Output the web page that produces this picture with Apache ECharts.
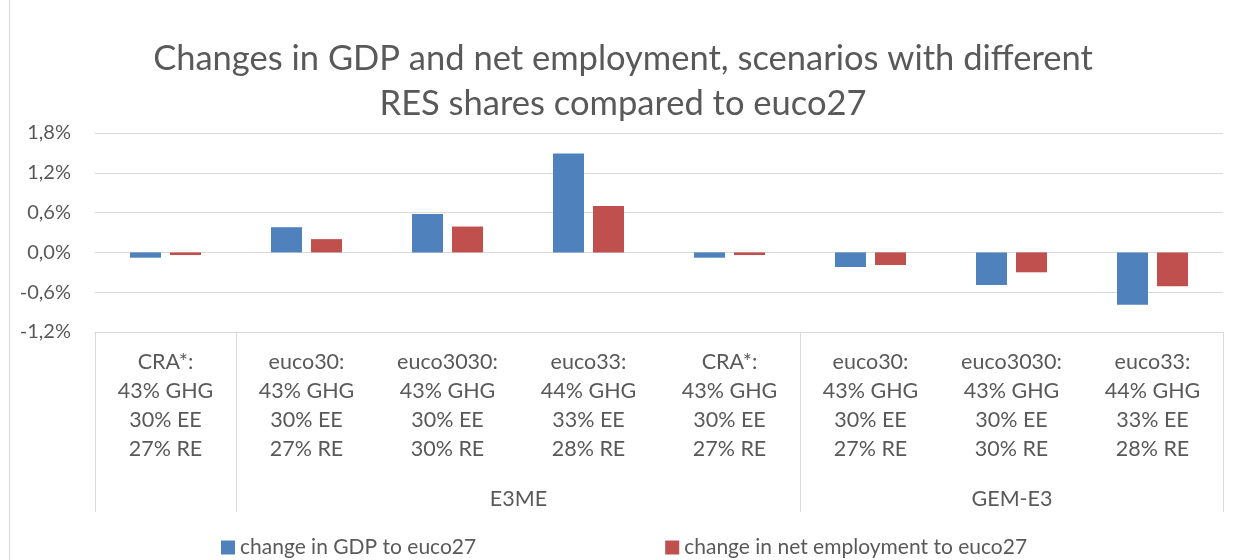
<!DOCTYPE html>
<html>
<head>
<meta charset="utf-8">
<title>Changes in GDP and net employment</title>
<script src="https://cdn.jsdelivr.net/npm/echarts@6/dist/echarts.min.js"></script>
<style>
  html, body { margin: 0; padding: 0; background: #fff; }
  #chart { width: 1246px; height: 560px; }
</style>
</head>
<body>
<div id="chart"></div>
<script>
// categories (inner level of the axis)
var categories = [
    'CRA*:\n43% GHG\n30% EE\n27% RE',
    'euco30:\n43% GHG\n30% EE\n27% RE',
    'euco3030:\n43% GHG\n30% EE\n30% RE',
    'euco33:\n44% GHG\n33% EE\n28% RE',
    'CRA*:\n43% GHG\n30% EE\n27% RE',
    'euco30:\n43% GHG\n30% EE\n27% RE',
    'euco3030:\n43% GHG\n30% EE\n30% RE',
    'euco33:\n44% GHG\n33% EE\n28% RE'
];
// outer level: group names and how many categories each covers
var groupNames = ['', 'E3ME', 'GEM-E3'];
var groupSpans = [1, 4, 3];
// values in %
var gdpChange = [-0.08, 0.38, 0.58, 1.49, -0.08, -0.22, -0.49, -0.79];
var empChange = [-0.04, 0.20, 0.39, 0.70, -0.04, -0.19, -0.30, -0.51];
var seriesNames = ['change in GDP to euco27', 'change in net employment to euco27'];

var FONT = 'Lato';
var GREY = '#595959';
var LINE = '#D9D9D9';

var chart = echarts.init(document.getElementById('chart'));
var option = {
    backgroundColor: '#fff',
    textStyle: { fontFamily: FONT },
    title: {
        text: 'Changes in GDP and net employment, scenarios with different\nRES shares compared to euco27',
        left: 'center',
        top: 31,
        textStyle: { fontFamily: FONT, fontSize: 34.5, fontWeight: 'normal', color: GREY, lineHeight: 45 }
    },
    legend: {
        top: 532,
        left: 216,
        itemGap: 189,
        itemWidth: 14,
        itemHeight: 14,
        icon: 'rect',
        data: seriesNames,
        textStyle: { fontFamily: FONT, fontSize: 21, color: GREY }
    },
    grid: { left: 95, right: 23, top: 133, bottom: 228 },
    xAxis: {
        type: 'category',
        data: categories,
        axisLine: { onZero: false, lineStyle: { color: LINE } },
        axisTick: { show: false },
        axisLabel: {
            interval: 0,
            margin: 16,
            fontFamily: FONT,
            fontSize: 21.5,
            lineHeight: 29,
            color: GREY
        }
    },
    yAxis: {
        type: 'value',
        min: -1.2,
        max: 1.8,
        interval: 0.6,
        axisLine: { show: false },
        axisTick: { show: false },
        splitLine: { lineStyle: { color: LINE, width: 1 } },
        axisLabel: {
            margin: 24,
            fontFamily: FONT,
            fontSize: 20,
            color: GREY,
            formatter: function (v) { return v.toFixed(1).replace('.', ',') + '%'; }
        }
    },
    series: [{
        name: seriesNames[0],
        type: 'bar',
        data: gdpChange,
        barWidth: 31,
        barGap: '29%',
        itemStyle: { color: '#4F81BD' }
    }, {
        name: seriesNames[1],
        type: 'bar',
        data: empChange,
        barWidth: 31,
        itemStyle: { color: '#C0504D' }
    }]
};
chart.setOption(option);

// multi-level axis: separators and group labels
var c0 = chart.convertToPixel({ xAxisIndex: 0 }, 0);
var c1 = chart.convertToPixel({ xAxisIndex: 0 }, 1);
var band = c1 - c0;
var axisY = chart.convertToPixel({ yAxisIndex: 0 }, -1.2);
var boxBottom = axisY + 180;
var elements = [{
    type: 'rect',
    shape: { x: 9.5, y: -5, width: 1250, height: 580 },
    style: { fill: 'none', stroke: LINE, lineWidth: 1 },
    silent: true
}];
var start = 0;
var edge = function (i) { return Math.round(c0 - band / 2 + i * band) + 0.5; };
elements.push({
    type: 'line',
    shape: { x1: edge(0), y1: axisY, x2: edge(0), y2: boxBottom },
    style: { stroke: LINE, lineWidth: 1 }
});
groupSpans.forEach(function (span, g) {
    var end = start + span;
    elements.push({
        type: 'line',
        shape: { x1: edge(end), y1: axisY, x2: edge(end), y2: boxBottom },
        style: { stroke: LINE, lineWidth: 1 }
    });
    if (groupNames[g]) {
        elements.push({
            type: 'text',
            x: (edge(start) + edge(end)) / 2,
            y: axisY + 167,
            style: {
                text: groupNames[g],
                fill: GREY,
                font: '21.5px ' + FONT,
                align: 'center',
                verticalAlign: 'middle'
            }
        });
    }
    start = end;
});
chart.setOption({ graphic: { elements: elements } });
</script>
</body>
</html>
